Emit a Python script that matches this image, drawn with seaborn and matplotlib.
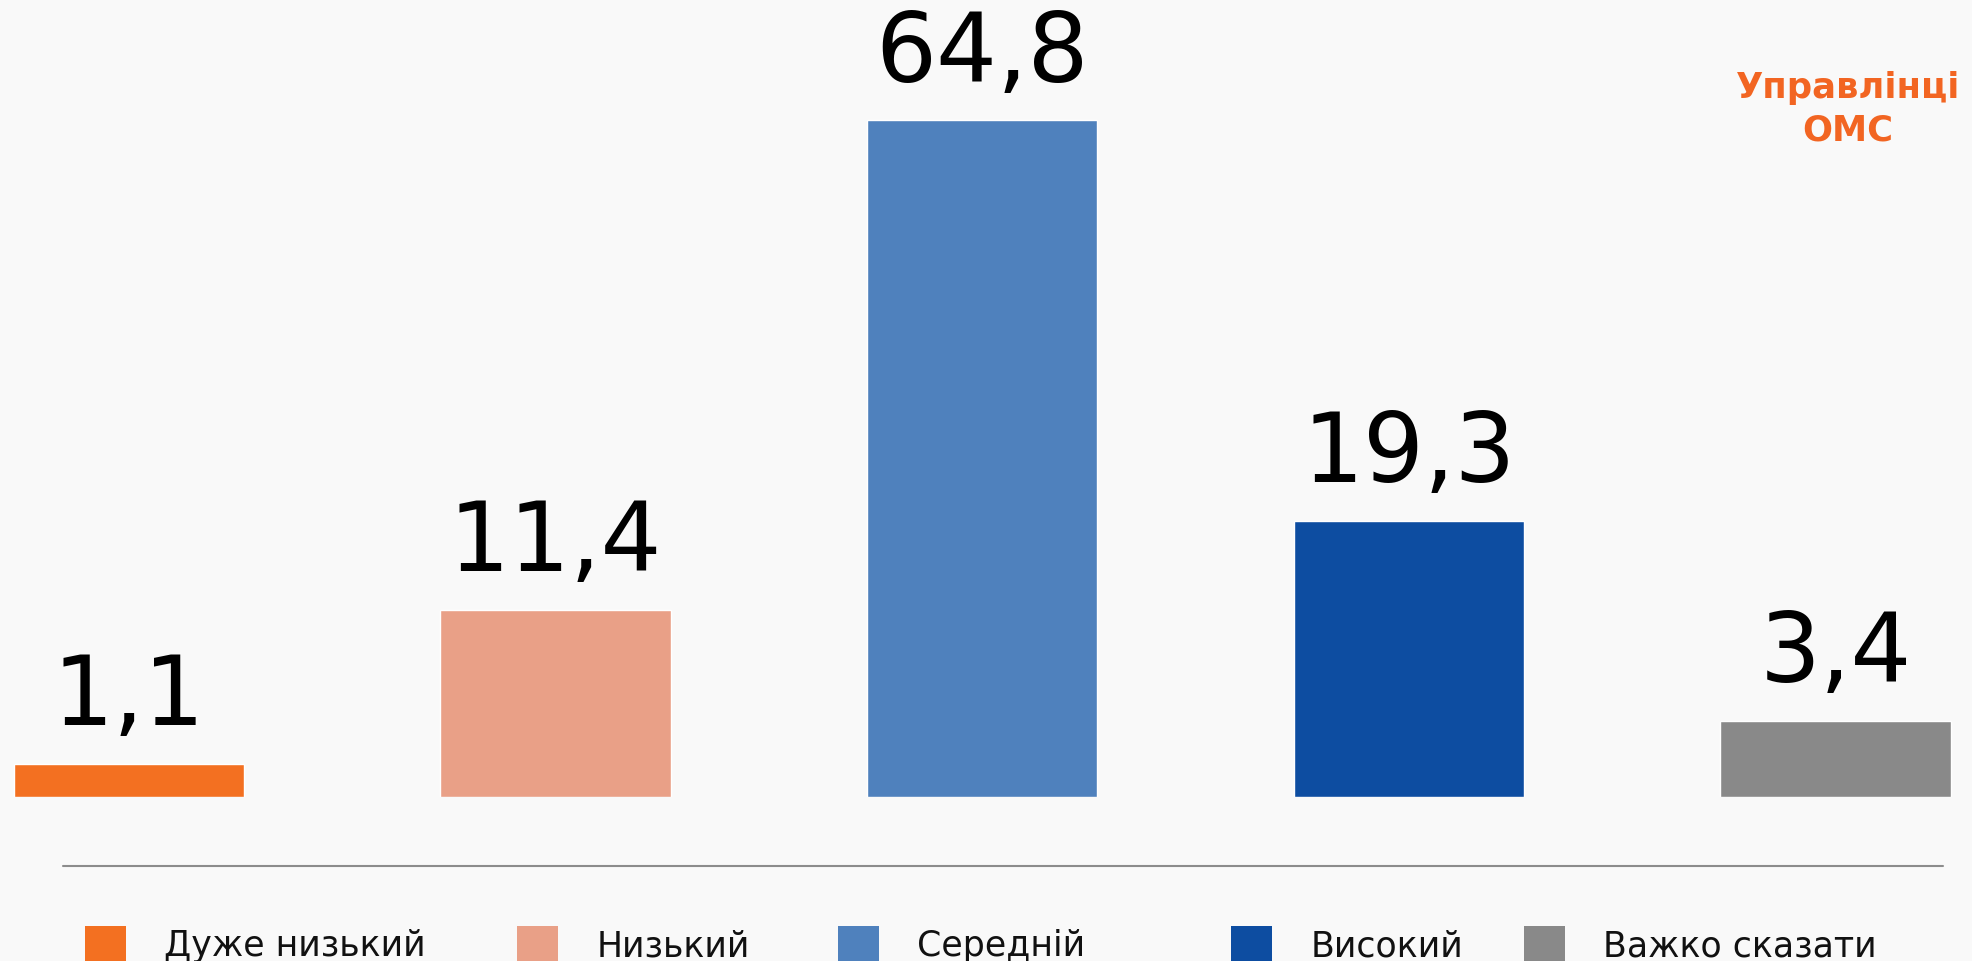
import numpy as np
import pandas as pd
import matplotlib
matplotlib.use("Agg")
import matplotlib.pyplot as plt
from matplotlib.patches import Patch
from matplotlib.lines import Line2D
import seaborn as sns

# data
categories = ['Дуже низький', 'Низький', 'Середній', 'Високий', 'Важко сказати']
values = [1.1, 11.4, 64.8, 19.3, 3.4]
colors = ['#F37021', '#E9A087', '#4F81BD', '#0D4DA1', '#898989']
title = 'Управлінці\nОМС'

# legend item x positions (px from left), layout only
legend_x = [85, 517, 838, 1231, 1524]

W, H = 1972, 962
sns.set_theme(style='white')
plt.rcParams['font.family'] = ['DejaVu Sans']

df = pd.DataFrame({'category': categories, 'value': values})
df['label'] = df['value'].map(lambda v: f'{v:.1f}'.replace('.', ','))

fig = plt.figure(figsize=(W / 100, H / 100), dpi=100, facecolor='#f9f9f9')
ax = fig.add_axes([0, (H - 798) / H, 1, 798 / H])
ax.set_facecolor('none')

sns.barplot(data=df, x='category', y='value', hue='category', palette=colors,
            width=0.54, saturation=1, legend=False, ax=ax)

# the original bars are not drawn proportionally; a power scale mimics it
expo = 0.74
fwd = lambda v: np.sign(v) * np.abs(v) ** expo
inv = lambda v: np.sign(v) * np.abs(v) ** (1 / expo)
ax.set_yscale('function', functions=(fwd, inv))
ax.set_ylim(0, inv(fwd(max(values)) * 798 / 677))
ax.set_xlim(-0.3024, 4.32)

for cont, lab in zip(ax.containers, df['label']):
    ax.bar_label(cont, labels=[lab], padding=14, fontsize=69, color='black')

ax.axis('off')

# baseline rule under the bars
fig.add_artist(Line2D([63 / W, 1943 / W], [1 - 867 / H] * 2,
                      transform=fig.transFigure, color='#8c8c8c', lw=1.5))

# legend, one entry per item so spacing follows the original
for name, col, x in zip(categories, colors, legend_x):
    fig.legend(handles=[Patch(facecolor=col, edgecolor='none')], labels=[name],
               loc='center left', bbox_to_anchor=(x / W, 1 - 945 / H),
               frameon=False, fontsize=25, handlelength=1.18, handleheight=1.18,
               handletextpad=1.1, borderpad=0, borderaxespad=0,
               labelcolor='#111111')

fig.text(1848 / W, 1 - 71 / H, title, ha='center', va='top', fontsize=25.5,
         fontweight='bold', color='#F26522', linespacing=1.3)

plt.savefig('out.png', dpi=100, facecolor=fig.get_facecolor())
